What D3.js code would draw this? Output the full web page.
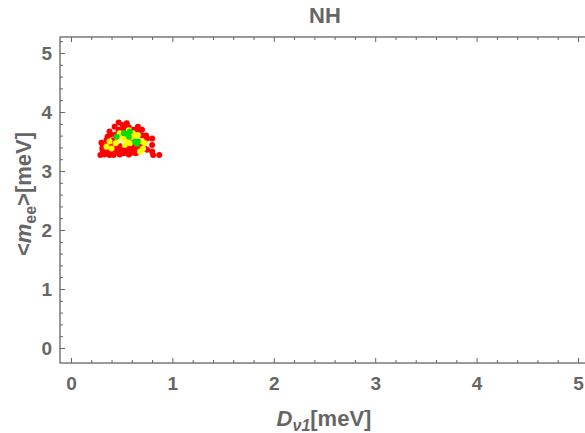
<!DOCTYPE html>
<html><head><meta charset="utf-8">
<script src="https://cdn.jsdelivr.net/npm/d3@7"></script>
<style>body{margin:0;background:#fff}svg{display:block}</style>
</head><body>
<svg id="c" width="585" height="433"></svg>
<script>
const title = "NH";
const xTicks = [0,1,2,3,4,5];
const yTicks = [0,1,2,3,4,5];
const redX = [0.55,0.47,0.43,0.38,0.36,0.30,0.29,0.34,0.38,0.47,0.55,0.63,0.70,0.66,0.75,0.80,0.80,0.80,0.81,0.87,0.75,0.61,0.66,0.41,0.32,0.35,0.40,0.44,0.48,0.52,0.57,0.60,0.64,0.68,0.72,0.50,0.45,0.42,0.33,0.37,0.43,0.49,0.53,0.58,0.62,0.70,0.74,0.52,0.57,0.62,0.47,0.39,0.35,0.51,0.41,0.60,0.66,0.31,0.45,0.54,0.58,0.68,0.49,0.44,0.36,0.33,0.39,0.31,0.42];
const redY = [3.81,3.82,3.75,3.67,3.58,3.48,3.27,3.36,3.27,3.30,3.33,3.36,3.70,3.75,3.55,3.55,3.44,3.33,3.27,3.27,3.36,3.50,3.41,3.44,3.32,3.30,3.32,3.35,3.28,3.30,3.28,3.31,3.30,3.38,3.42,3.36,3.40,3.52,3.42,3.45,3.38,3.42,3.36,3.40,3.43,3.60,3.60,3.72,3.74,3.70,3.70,3.62,3.52,3.78,3.30,3.46,3.66,3.40,3.34,3.42,3.34,3.46,3.66,3.62,3.35,3.28,3.40,3.36,3.27];
const yellowX = [0.38,0.44,0.48,0.52,0.57,0.61,0.66,0.70,0.73,0.71,0.68,0.58,0.53,0.40,0.35,0.62,0.46,0.55];
const yellowY = [3.50,3.47,3.64,3.55,3.69,3.64,3.61,3.50,3.47,3.38,3.33,3.47,3.44,3.38,3.41,3.56,3.56,3.52];
const greenX = [0.52,0.55,0.57,0.45,0.63,0.66,0.65,0.58];
const greenY = [3.64,3.63,3.58,3.58,3.50,3.50,3.46,3.67];

const svg = d3.select("#c");
const L = 60, R = 588, T = 37, B = 363;
const x = d3.scaleLinear().domain([0,5]).range([71,578]);
const y = d3.scaleLinear().domain([0,5]).range([348,53]);
const gray = "#666";
const font = "Liberation Sans, Arial, sans-serif";

const drawSet = (xs, ys, col) => svg.append("g").selectAll("circle").data(xs.map((v,i)=>[v,ys[i]])).join("circle")
  .attr("cx", d=>x(d[0])).attr("cy", d=>y(d[1])).attr("r", 3).attr("fill", col);
drawSet(redX, redY, "#ff0000");
drawSet(yellowX, yellowY, "#ffff00");
drawSet(greenX, greenY, "#00e000");

svg.append("rect").attr("x", L).attr("y", T).attr("width", R-L).attr("height", B-T)
  .attr("fill","none").attr("stroke", gray).attr("stroke-width", 1.3);

const xMinor = d3.range(0, 5.01, 0.2);
const yMinor = d3.range(0, 5.21, 0.2);
const isMajor = v => Math.abs(v - Math.round(v)) < 1e-6;
svg.append("g").attr("transform", `translate(0,${B})`)
  .call(d3.axisBottom(x).tickValues(xMinor).tickSizeInner(0).tickSizeOuter(0).tickFormat(""))
  .call(g => { g.select(".domain").remove(); g.selectAll(".tick line").attr("y2", d => isMajor(d) ? -5 : -3).attr("stroke", gray); });
svg.append("g").attr("transform", `translate(0,${T})`)
  .call(d3.axisTop(x).tickValues(xMinor).tickSizeInner(0).tickSizeOuter(0).tickFormat(""))
  .call(g => { g.select(".domain").remove(); g.selectAll(".tick line").attr("y2", d => isMajor(d) ? 5 : 3).attr("stroke", gray); });
svg.append("g").attr("transform", `translate(${L},0)`)
  .call(d3.axisLeft(y).tickValues(yMinor).tickSizeInner(0).tickSizeOuter(0).tickFormat(""))
  .call(g => { g.select(".domain").remove(); g.selectAll(".tick line").attr("x2", d => isMajor(d) ? 5 : 3).attr("stroke", gray); });

svg.append("g").attr("transform", `translate(0,${B})`)
  .call(d3.axisBottom(x).tickValues(xTicks).tickSize(0).tickPadding(14).tickFormat(d3.format("d")))
  .call(g => { g.select(".domain").remove(); g.selectAll("text").attr("fill", gray).attr("font-size", 19).attr("font-weight","bold").attr("font-family", font); });
svg.append("g").attr("transform", `translate(${L},0)`)
  .call(d3.axisLeft(y).tickValues(yTicks).tickSize(0).tickPadding(8).tickFormat(d3.format("d")))
  .call(g => { g.select(".domain").remove(); g.selectAll("text").attr("fill", gray).attr("font-size", 19).attr("font-weight","bold").attr("font-family", font); });

svg.append("text").attr("x", 325).attr("y", 23).attr("text-anchor","middle")
  .attr("fill", gray).attr("font-size", 22).attr("font-weight","bold").attr("font-family", font).text(title);

const xl = svg.append("text").attr("x", 324).attr("y", 426).attr("text-anchor","middle")
  .attr("fill", gray).attr("font-size", 22).attr("font-weight","bold").attr("font-family", font);
xl.append("tspan").attr("font-style","italic").text("D");
xl.append("tspan").attr("font-style","italic").attr("font-size", 16).attr("dy", 5).text("ν1");
xl.append("tspan").attr("dy", -5).text("[meV]");

const yl = svg.append("text").attr("transform","translate(31,194) rotate(-90)").attr("text-anchor","middle")
  .attr("fill", gray).attr("font-size", 22).attr("font-weight","bold").attr("font-family", font);
yl.append("tspan").text("<");
yl.append("tspan").attr("font-style","italic").text("m");
yl.append("tspan").attr("font-size", 16).attr("dy", 5).text("ee");
yl.append("tspan").attr("dy", -5).text(">[meV]");
</script>
</body></html>
